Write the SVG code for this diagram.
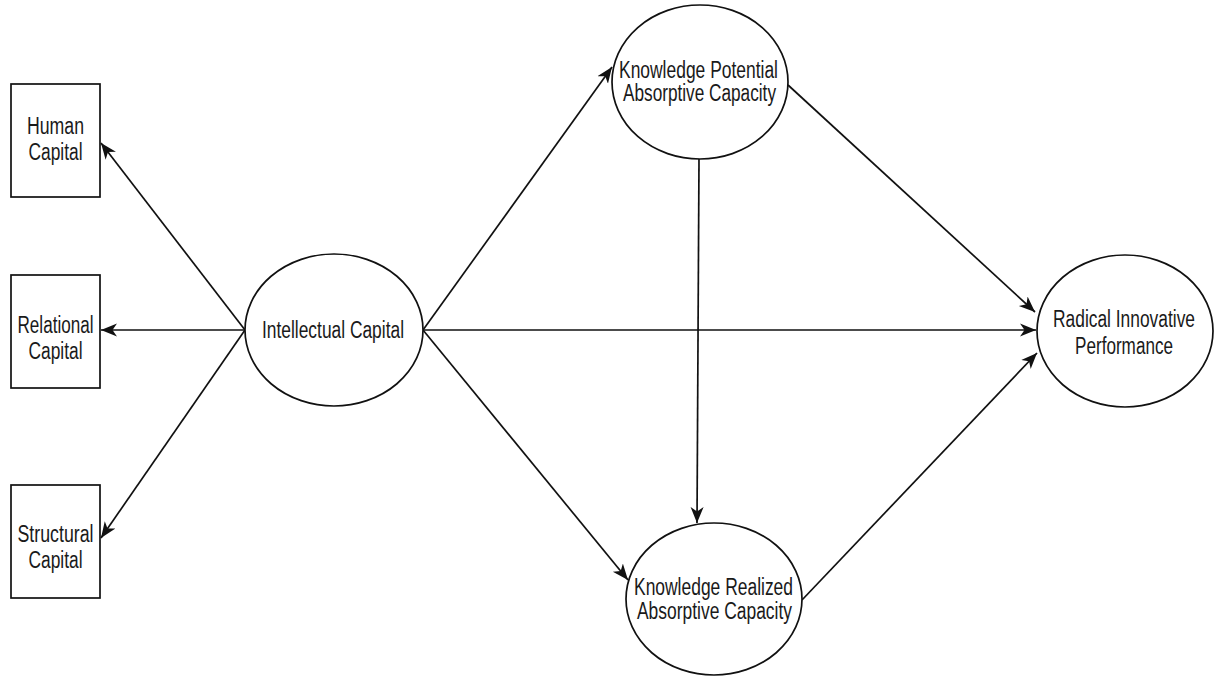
<svg xmlns="http://www.w3.org/2000/svg" width="1214" height="676" viewBox="0 0 1214 676">
<defs>
<marker id="arr" markerUnits="userSpaceOnUse" markerWidth="18" markerHeight="16" viewBox="0 0 18 16" refX="16" refY="8" orient="auto">
<path d="M0,1.5 L16,8 L0,14.5 L4.5,8 z" fill="#111"/>
</marker>
<style>
.box{fill:#fff;stroke:#111;stroke-width:1.7}
.ell{fill:#fff;stroke:#111;stroke-width:1.7}
.lbl{font-family:"Liberation Sans",Arial,sans-serif;font-size:23px;fill:#1a1a1a;text-anchor:middle}
.edge{stroke:#111;stroke-width:1.7;fill:none;marker-end:url(#arr)}
</style>
</defs>
<rect width="1214" height="676" fill="#fff"/>
<g id="connectors">
<line class="edge" x1="245" y1="330" x2="101" y2="143"/>
<line class="edge" x1="245" y1="330" x2="101" y2="330"/>
<line class="edge" x1="245" y1="330" x2="101" y2="538"/>
<line class="edge" x1="423" y1="330" x2="612" y2="67"/>
<line class="edge" x1="423" y1="330" x2="1036" y2="330"/>
<line class="edge" x1="423" y1="330" x2="628" y2="580"/>
<line class="edge" x1="699" y1="159" x2="697" y2="523"/>
<line class="edge" x1="788" y1="85" x2="1035" y2="312"/>
<line class="edge" x1="802" y1="600" x2="1037" y2="353"/>
</g>
<g id="human">
<rect class="box" x="11" y="84" width="89" height="113"/>
<text class="lbl" x="55.5" y="134" textLength="57" lengthAdjust="spacingAndGlyphs">Human</text>
<text class="lbl" x="55.5" y="160" textLength="54" lengthAdjust="spacingAndGlyphs">Capital</text>
</g>
<g id="relational">
<rect class="box" x="11" y="275" width="89" height="113"/>
<text class="lbl" x="55.5" y="333" textLength="76" lengthAdjust="spacingAndGlyphs">Relational</text>
<text class="lbl" x="55.5" y="359" textLength="54" lengthAdjust="spacingAndGlyphs">Capital</text>
</g>
<g id="structural">
<rect class="box" x="11" y="485" width="89" height="113"/>
<text class="lbl" x="55.5" y="542" textLength="76" lengthAdjust="spacingAndGlyphs">Structural</text>
<text class="lbl" x="55.5" y="568" textLength="54" lengthAdjust="spacingAndGlyphs">Capital</text>
</g>
<g id="intellectual">
<ellipse class="ell" cx="334" cy="330" rx="89" ry="76"/>
<text class="lbl" x="333" y="338" textLength="142" lengthAdjust="spacingAndGlyphs">Intellectual Capital</text>
</g>
<g id="potential">
<ellipse class="ell" cx="700" cy="82" rx="88" ry="77"/>
<text class="lbl" x="698.5" y="77.5" textLength="159" lengthAdjust="spacingAndGlyphs">Knowledge Potential</text>
<text class="lbl" x="699.5" y="101" textLength="153" lengthAdjust="spacingAndGlyphs">Absorptive Capacity</text>
</g>
<g id="realized">
<ellipse class="ell" cx="714" cy="599" rx="88" ry="76"/>
<text class="lbl" x="713.5" y="594.5" textLength="159" lengthAdjust="spacingAndGlyphs">Knowledge Realized</text>
<text class="lbl" x="714.5" y="618.5" textLength="155" lengthAdjust="spacingAndGlyphs">Absorptive Capacity</text>
</g>
<g id="radical">
<ellipse class="ell" cx="1125" cy="331" rx="88" ry="76"/>
<text class="lbl" x="1124" y="326.5" textLength="142" lengthAdjust="spacingAndGlyphs">Radical Innovative</text>
<text class="lbl" x="1124" y="353.5" textLength="98" lengthAdjust="spacingAndGlyphs">Performance</text>
</g>
</svg>
